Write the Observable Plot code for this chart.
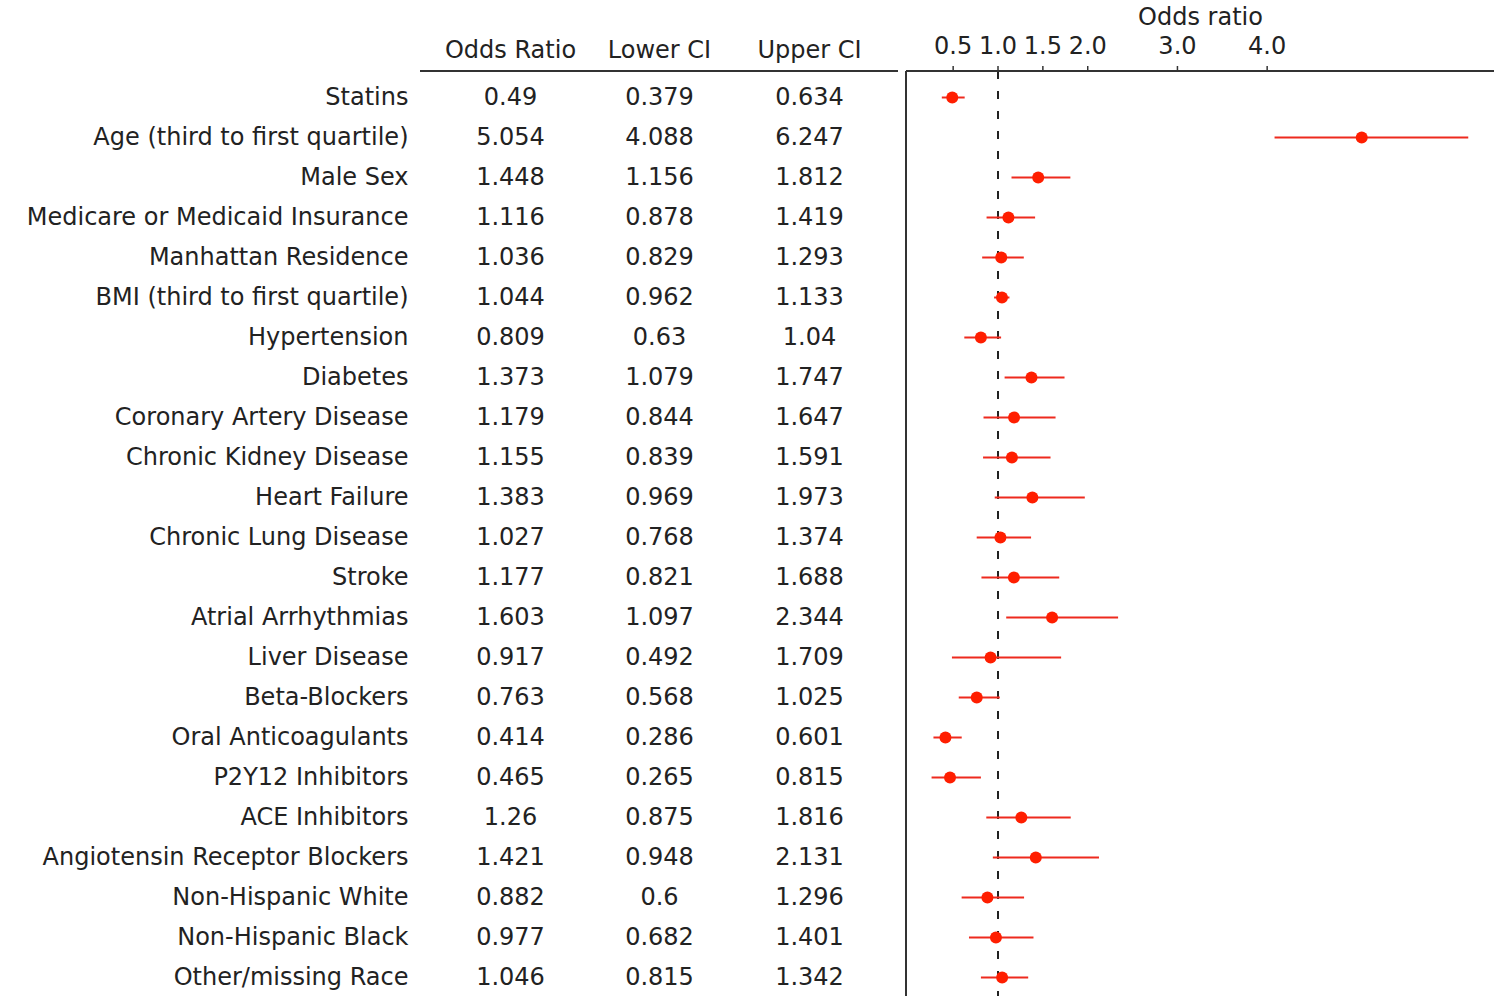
<!DOCTYPE html>
<html>
<head>
<meta charset="utf-8">
<script src="https://cdn.jsdelivr.net/npm/d3@7"></script>
<script src="https://cdn.jsdelivr.net/npm/@observablehq/plot@0.6"></script>
<style>
  html, body { margin: 0; padding: 0; background: #fff; }
  #chart svg { display: block; }
</style>
</head>
<body>
<div id="chart"></div>
<script>
const variables = [
  "Statins", "Age (third to first quartile)", "Male Sex", "Medicare or Medicaid Insurance",
  "Manhattan Residence", "BMI (third to first quartile)", "Hypertension", "Diabetes",
  "Coronary Artery Disease", "Chronic Kidney Disease", "Heart Failure", "Chronic Lung Disease",
  "Stroke", "Atrial Arrhythmias", "Liver Disease", "Beta-Blockers", "Oral Anticoagulants",
  "P2Y12 Inhibitors", "ACE Inhibitors", "Angiotensin Receptor Blockers", "Non-Hispanic White",
  "Non-Hispanic Black", "Other/missing Race"
];
const oddsRatio = [0.49, 5.054, 1.448, 1.116, 1.036, 1.044, 0.809, 1.373, 1.179, 1.155, 1.383, 1.027,
  1.177, 1.603, 0.917, 0.763, 0.414, 0.465, 1.26, 1.421, 0.882, 0.977, 1.046];
const lowerCI = [0.379, 4.088, 1.156, 0.878, 0.829, 0.962, 0.63, 1.079, 0.844, 0.839, 0.969, 0.768,
  0.821, 1.097, 0.492, 0.568, 0.286, 0.265, 0.875, 0.948, 0.6, 0.682, 0.815];
const upperCI = [0.634, 6.247, 1.812, 1.419, 1.293, 1.133, 1.04, 1.747, 1.647, 1.591, 1.973, 1.374,
  1.688, 2.344, 1.709, 1.025, 0.601, 0.815, 1.816, 2.131, 1.296, 1.401, 1.342];
const xTicks = [0.5, 1.0, 1.5, 2.0, 3.0, 4.0];
const columnHeaders = ["Odds Ratio", "Lower CI", "Upper CI"];
const axisTitle = "Odds ratio";

const rows = variables.map((name, i) => ({name, or: oddsRatio[i], lo: lowerCI[i], hi: upperCI[i]}));

const FONT = "DejaVu Sans";
const FS = 24;
const TXT = "#222";
const ML = 906, MT = 71, MR = 7;
const colDx = [-396, -247, -97];
const colFields = ["or", "lo", "hi"];

const plot = Plot.plot({
  width: 1501,
  height: 996,
  marginLeft: ML,
  marginRight: MR,
  marginTop: MT,
  marginBottom: 0,
  insetTop: 26,
  insetBottom: 19,
  style: {fontFamily: FONT, fontSize: FS + "px", color: TXT, background: "#fff"},
  x: {domain: [-0.02, 6.534], axis: "top", ticks: xTicks, tickFormat: d3.format(".1f"), tickSize: 6, tickPadding: 12, label: null},
  y: {type: "point", domain: variables, padding: 0, axis: null},
  marks: [
    Plot.ruleX([1], {stroke: "#222", strokeWidth: 2, strokeDasharray: "8,12", dashOffset: 4}),
    Plot.ruleY(rows, {y: "name", x1: "lo", x2: "hi", stroke: "#ee2a1e", strokeWidth: 2}),
    Plot.dot(rows, {y: "name", x: "or", r: 6, fill: "#ff1e00", stroke: "none"}),
    Plot.text(rows, {y: "name", frameAnchor: "left", dx: -498, text: "name", textAnchor: "end", fill: TXT}),
    ...colFields.map((f, i) => Plot.text(rows, {y: "name", frameAnchor: "left", dx: colDx[i], text: d => String(d[f]), textAnchor: "middle", fill: TXT})),
    ...columnHeaders.map((h, i) => Plot.text([h], {frameAnchor: "top-left", lineAnchor: "middle", dx: colDx[i], dy: -21, text: d => d, textAnchor: "middle", fill: TXT})),
    Plot.text([axisTitle], {frameAnchor: "top", lineAnchor: "middle", dy: -54, text: d => d, fill: TXT})
  ]
});

document.getElementById("chart").appendChild(plot);
const svg = d3.select(plot);

// frame lines: top of plot area and left side, and header underline
const W = 1501, H = 996;
const g = svg.append("g").attr("stroke", "#333").attr("stroke-width", 2);
g.append("line").attr("x1", ML).attr("x2", W - MR).attr("y1", MT).attr("y2", MT);
g.append("line").attr("x1", ML).attr("x2", ML).attr("y1", MT).attr("y2", H);
g.append("line").attr("x1", 420).attr("x2", 898).attr("y1", MT).attr("y2", MT);
svg.selectAll("[aria-label='x-axis tick']").attr("stroke", "#333").attr("stroke-width", 1.5);
</script>
</body>
</html>
